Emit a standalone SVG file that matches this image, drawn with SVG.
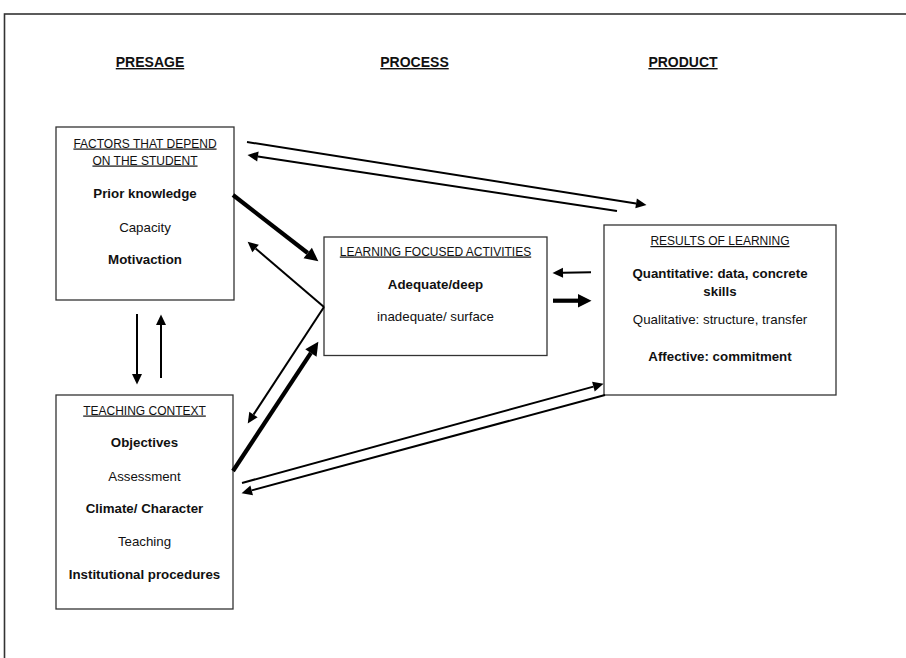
<svg xmlns="http://www.w3.org/2000/svg" width="906" height="658" viewBox="0 0 906 658">
  <style>
    text { font-family: "Liberation Sans", Arial, sans-serif; fill: #111; text-anchor: middle; }
    .hdr { font-size: 14px; font-weight: bold; text-decoration: underline; }
    .ttl { font-size: 12px; text-decoration: underline; }
    .b { font-size: 13.3px; font-weight: bold; }
    .r { font-size: 13.3px; }
    .box { fill: #fff; stroke: #333; stroke-width: 1.3; }
    .thin { stroke: #000; stroke-width: 2; fill: none; marker-end: url(#ahThin); }
    .thick { stroke: #000; stroke-width: 4.2; fill: none; marker-end: url(#ahThick); }
    .plain { stroke: #000; stroke-width: 2; fill: none; }
  </style>
  <defs>
    <marker id="ahThin" markerUnits="userSpaceOnUse" markerWidth="12" markerHeight="12" viewBox="0 -6 11 12" refX="0" refY="0" orient="auto">
      <path d="M0,-5 L10.5,0 L0,5 Z" fill="#000"/>
    </marker>
    <marker id="ahThick" markerUnits="userSpaceOnUse" markerWidth="15" markerHeight="16" viewBox="0 -8 14 16" refX="0" refY="0" orient="auto">
      <path d="M0,-6.8 L13.5,0 L0,6.8 Z" fill="#000"/>
    </marker>
  </defs>
  <rect x="4.5" y="14" width="930" height="700" fill="none" stroke="#333" stroke-width="1.6"/>
  <g id="headers">
    <text class="hdr" x="150" y="67">PRESAGE</text>
    <text class="hdr" x="414.5" y="67">PROCESS</text>
    <text class="hdr" x="683" y="67">PRODUCT</text>
  </g>
  <g id="student-factors">
    <rect class="box" x="56" y="127" width="178" height="173"/>
    <text class="ttl" x="145" y="147.5">FACTORS THAT DEPEND</text>
    <text class="ttl" x="145" y="164.5">ON THE STUDENT</text>
    <text class="b" x="145" y="197.5">Prior knowledge</text>
    <text class="r" x="145" y="231.5">Capacity</text>
    <text class="b" x="145" y="263.5">Motivaction</text>
  </g>
  <g id="teaching-context">
    <rect class="box" x="56" y="395" width="177" height="214"/>
    <text class="ttl" x="144.5" y="414.5">TEACHING CONTEXT</text>
    <text class="b" x="144.5" y="446.5">Objectives</text>
    <text class="r" x="144.5" y="480.5">Assessment</text>
    <text class="b" x="144.5" y="512.5">Climate/ Character</text>
    <text class="r" x="144.5" y="545.5">Teaching</text>
    <text class="b" x="144.5" y="578.5">Institutional procedures</text>
  </g>
  <g id="learning-activities">
    <rect class="box" x="324" y="237" width="223" height="118.5"/>
    <text class="ttl" x="435.5" y="255.5">LEARNING FOCUSED ACTIVITIES</text>
    <text class="b" x="435.5" y="288.5">Adequate/deep</text>
    <text class="r" x="435.5" y="321">inadequate/ surface</text>
  </g>
  <g id="results">
    <rect class="box" x="604" y="225" width="232" height="170"/>
    <text class="ttl" x="720" y="245">RESULTS OF LEARNING</text>
    <text class="b" x="720" y="277.5">Quantitative: data, concrete</text>
    <text class="b" x="720" y="296">skills</text>
    <text class="r" x="720" y="323.5">Qualitative: structure, transfer</text>
    <text class="b" x="720" y="361">Affective: commitment</text>
  </g>
  <g id="connectors">
    <line class="thin" x1="247" y1="142" x2="636.1" y2="203.4"/>
    <line class="thin" x1="617" y1="211" x2="257.9" y2="156.5"/>
    <line class="thick" x1="233" y1="195" x2="307.7" y2="253"/>
    <polyline class="thin" points="324,307 255.6,248.5"/>
    <line class="thin" x1="324" y1="307" x2="253.5" y2="414.6"/>
    <line class="thick" x1="233" y1="471" x2="310.9" y2="352.9"/>
    <line class="thin" x1="137" y1="314" x2="137" y2="374"/>
    <line class="thin" x1="161" y1="378" x2="161" y2="325"/>
    <line class="thin" x1="591" y1="272.3" x2="563" y2="272.8"/>
    <line class="thick" x1="553" y1="300.7" x2="578" y2="300.7"/>
    <line class="thin" x1="242" y1="483" x2="593.4" y2="386.6"/>
    <line class="thin" x1="605" y1="395" x2="251.7" y2="490.4"/>
  </g>
</svg>
